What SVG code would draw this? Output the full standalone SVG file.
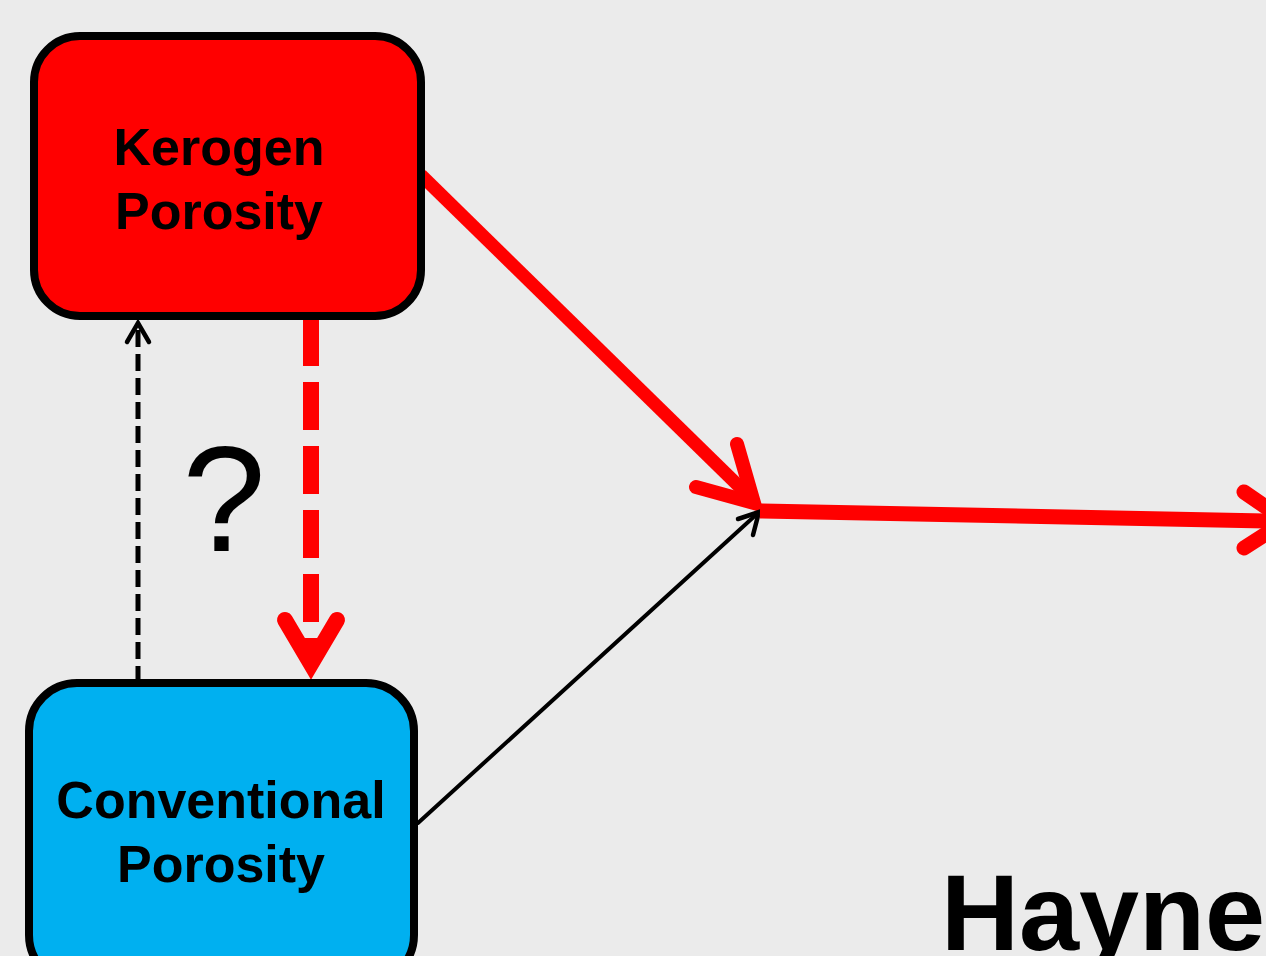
<svg xmlns="http://www.w3.org/2000/svg" width="1266" height="956" viewBox="0 0 1266 956">
  <style>
    .box { stroke: #000; stroke-width: 8; }
    .label { font-family: "Liberation Sans", Arial, sans-serif; font-weight: bold; font-size: 52px; fill: #000; text-anchor: middle; }
    .red { fill: none; stroke: #FF0000; stroke-linejoin: miter; }
    .blk { fill: none; stroke: #000; stroke-linejoin: miter; }
    .head { stroke-linecap: round; }
    .shaft { stroke-linecap: butt; }
  </style>
  <rect width="1266" height="956" fill="#EBEBEB"/>

  <g id="connectors">
    <!-- Kerogen -> Conventional (dashed red) -->
    <line class="red shaft" x1="311" y1="318" x2="311" y2="660" stroke-width="16" stroke-dasharray="48 16"/>
    <polyline class="red head" points="285,620 311,664 337,620" stroke-width="16"/>
    <!-- Conventional -> Kerogen (dashed black) -->
    <line class="blk shaft" x1="138" y1="683" x2="138" y2="324" stroke-width="5" stroke-dasharray="17 7"/>
    <polyline class="blk head" points="127,342 138,323 149,342" stroke-width="4.5"/>
    <!-- Kerogen -> junction -->
    <line class="red shaft" x1="421" y1="175" x2="752" y2="499" stroke-width="13"/>
    <polyline class="red head" points="737,444 754,503 696,487" stroke-width="14"/>
    <!-- Conventional -> junction -->
    <line class="blk head" x1="418" y1="823" x2="758" y2="513" stroke-width="4"/>
    <polyline class="blk head" points="738,519 759,512 753,535" stroke-width="4.5"/>
    <!-- junction -> right -->
    <line class="red shaft" x1="760" y1="511" x2="1270" y2="521" stroke-width="15"/>
    <polyline class="red head" points="1244,492 1286,521 1244,548" stroke-width="15"/>
  </g>

  <g id="kerogen">
    <rect class="box" x="34" y="36" width="387" height="280" rx="46" ry="46" fill="#FF0000"/>
    <text class="label" x="219" y="165">Kerogen</text>
    <text class="label" x="219" y="229">Porosity</text>
  </g>

  <g id="conventional">
    <rect class="box" x="29" y="683" width="385" height="300" rx="48" ry="48" fill="#00B0F0"/>
    <text class="label" x="221" y="818">Conventional</text>
    <text class="label" x="221" y="882">Porosity</text>
  </g>

  <text x="224" y="551" font-family="Liberation Sans, Arial, sans-serif" font-size="150" text-anchor="middle" fill="#000">?</text>

  <text x="941" y="950" font-family="Liberation Sans, Arial, sans-serif" font-weight="bold" font-size="108" fill="#000">Haynes</text>
</svg>
